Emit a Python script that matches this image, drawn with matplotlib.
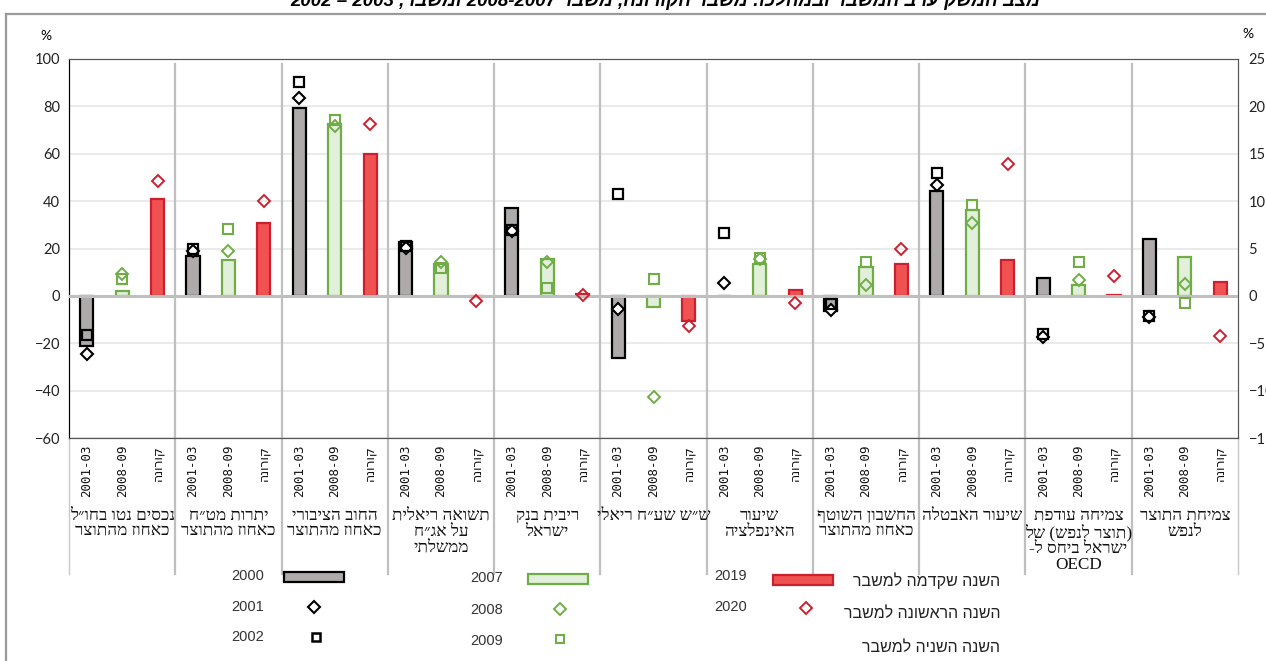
import re
import numpy as np
import matplotlib
matplotlib.use('Agg')
import matplotlib.pyplot as plt
from matplotlib.patches import Rectangle
import matplotlib.transforms as mtransforms

plt.rcParams['font.family'] = ['Lato', 'Liberation Sans', 'DejaVu Sans']


def heb(s):
    # matplotlib has no bidi: put each line in visual order
    lines = []
    for line in s.split('\n'):
        toks = re.findall(r'[A-Za-z0-9]+(?:[-.][A-Za-z0-9]+)*|.', line)
        mirror = {'(': ')', ')': '('}
        lines.append(''.join(mirror.get(t, t) for t in toks[::-1]))
    return '\n'.join(lines)


# ---- data ----
groups = ['נכסים נטו בחו״ל\nכאחוז מהתוצר',
          'יתרות מט״ח\nכאחוז מהתוצר',
          'החוב הציבורי\nכאחוז מהתוצר',
          'תשואה ריאלית\nעל אג״ח\nממשלתי',
          'ריבית בנק\nישראל',
          'ש״ש שע״ח ריאלי',
          'שיעור\nהאינפלציה',
          'החשבון השוטף\nכאחוז מהתוצר',
          'שיעור האבטלה',
          'צמיחה עודפת\n(תוצר לנפש) של\nישראל ביחס ל-\nOECD',
          'צמיחת התוצר\nלנפש']
periods = ['2001-03', '2008-09', 'קורונה']
# first 3 indicators on left axis, the rest on right axis
on_right = [False, False, False, True, True, True, True, True, True, True, True]

y2000 = [-21.3, 16.9, 79.4, 5.7, 9.3, -6.6, 0.0, -1.6, 11.1, 1.9, 6.0]
y2001 = [-24.7, 18.8, 83.4, 5.1, 6.8, -1.4, 1.4, -1.5, 11.7, -4.3, -2.2]
y2002 = [-16.6, 20.0, 90.1, 5.3, 7.0, 10.8, 6.6, -0.9, 13.0, -4.0, -2.1]
y2007 = [2.0, 15.2, 72.7, 3.4, 3.9, -1.2, 3.4, 3.05, 9.1, 1.1, 4.1]
y2008 = [9.4, 18.8, 71.9, 3.6, 3.6, -10.7, 3.9, 1.2, 7.7, 1.7, 1.3]
y2009 = [7.3, 28.1, 74.4, 2.9, 0.8, 1.8, 4.0, 3.6, 9.6, 3.6, -0.8]
y2019 = [40.7, 30.6, 60.0, -0.1, 0.25, -2.6, 0.6, 3.4, 3.8, 0.05, 1.5]
y2020 = [48.4, 40.2, 72.5, -0.55, 0.1, -3.2, -0.7, 5.0, 13.9, 2.1, -4.2]

legend_years = ['2000', '2001', '2002', '2007', '2008', '2009', '2019', '2020']
legend_text = ['השנה שקדמה למשבר', 'השנה הראשונה למשבר', 'השנה השניה למשבר']

GRAY, GREEN_F, GREEN = '#AEAAAA', '#E2EFDA', '#70AD47'
RED_F, RED = '#F05252', '#CC2030'

W, H = 1266, 661
fig = plt.figure(figsize=(W / 100, H / 100), dpi=100)
ax = fig.add_axes([69 / W, 1 - 438 / H, (1238 - 69) / W, (438 - 59) / H])
ax2 = ax.twinx()

ng = len(groups)
xpos = np.arange(ng * 3)
bw = 0.37

for i in range(ng):
    a = ax2 if on_right[i] else ax
    x0, x1, x2 = 3 * i, 3 * i + 1, 3 * i + 2
    a.bar(x0, y2000[i], bw, color=GRAY, edgecolor='black', lw=1.6, zorder=2)
    a.bar(x1, y2007[i], bw, color=GREEN_F, edgecolor=GREEN, lw=1.6, zorder=2)
    a.bar(x2, y2019[i], bw, color=RED_F, edgecolor=RED, lw=1.6, zorder=2)
    a.plot(x0, y2001[i], 'D', ms=6, mfc='white', mec='black', mew=1.5, zorder=4)
    a.plot(x0, y2002[i], 's', ms=6.5, mfc='none', mec='black', mew=1.6, zorder=4)
    a.plot(x1, y2008[i], 'D', ms=6, mfc='none', mec=GREEN, mew=1.4, zorder=4)
    a.plot(x1, y2009[i], 's', ms=6.5, mfc='none', mec=GREEN, mew=1.5, zorder=4)
    a.plot(x2, y2020[i], 'D', ms=6, mfc='none', mec=RED, mew=1.4, zorder=4)

ax.set_xlim(-0.5, ng * 3 - 0.5)
ax.set_ylim(-60, 100)
ax2.set_ylim(-15, 25)
ax.set_yticks(np.arange(-60, 101, 20))
ax2.set_yticks(np.arange(-15, 26, 5))
ax.yaxis.grid(True, color='#E6E6E6', lw=1.2, zorder=0)
ax.set_axisbelow(True)
ax2.axhline(0, color='#BFBFBF', lw=2.2, zorder=3)

ax.set_xticks(xpos)
ax.set_xticklabels([heb(periods[k % 3]) for k in xpos], rotation=90,
                   fontsize=9, family=['DejaVu Sans Mono', 'DejaVu Sans'], color='#111111')
ax.tick_params(axis='x', length=0, pad=5)
ax.tick_params(axis='y', length=0, pad=6.5, labelsize=10.5, labelcolor='#222222')
ax2.tick_params(axis='y', length=0, pad=7.5, labelsize=10.5, labelcolor='#222222')
for a in (ax, ax2):
    for s in ('top', 'right', 'bottom'):
        a.spines[s].set_color('#555555')
    a.spines['left'].set_color('black')

# group separators, running down past the category labels
tr = mtransforms.blended_transform_factory(ax.transData, ax.transAxes)
for g in range(1, ng):
    ax.plot([3 * g - 0.5] * 2, [-0.359, 0.988], color='#BFBFBF', lw=1.6,
            transform=tr, clip_on=False, zorder=1)
for xe in (-0.5, ng * 3 - 0.5):
    ax.plot([xe] * 2, [-0.359, 0], color='#C8C8C8', lw=1.0,
            transform=tr, clip_on=False, zorder=1)

for g in range(ng):
    ax.text(3 * g + 1, -0.184, heb(groups[g]), transform=tr, ha='center', va='top',
            fontsize=12.3, family=['Liberation Serif'], linespacing=1.0, color='#111111')

# overlay in pixel coordinates for frame, title, legend
ov = fig.add_axes([0, 0, 1, 1])
ov.set_xlim(0, W)
ov.set_ylim(H, 0)
ov.axis('off')
ov.plot([6, W], [13.5, 13.5], color='#9A9A9A', lw=1.6)
ov.plot([6, 6], [13.5, H], color='#9A9A9A', lw=1.6)
ov.text(665, 5.5, heb('מצב המשק ערב המשבר ובמהלכו: משבר הקורונה, משבר 2008-2007 ומשבר, 2003 – 2002'),
        ha='center', va='baseline', fontsize=13.5, fontweight='bold', fontstyle='italic',
        family=['Liberation Sans'])
ov.text(46, 36, '%', ha='center', va='center', fontsize=10)
ov.text(1248, 34, '%', ha='center', va='center', fontsize=10)

# legend
ov.add_patch(Rectangle((284, 572), 60, 10, fc=GRAY, ec='black', lw=1.6))
ov.add_patch(Rectangle((528, 574), 60, 10, fc=GREEN_F, ec=GREEN, lw=1.6))
ov.add_patch(Rectangle((773, 575), 60, 10, fc=RED_F, ec=RED, lw=1.6))
ov.plot(314, 607, 'D', ms=6, mfc='white', mec='black', mew=1.5)
ov.plot(316, 637, 's', ms=5.5, mfc='none', mec='black', mew=1.8)
ov.plot(560, 609, 'D', ms=6, mfc='none', mec=GREEN, mew=1.4)
ov.plot(560, 639, 's', ms=5.5, mfc='none', mec=GREEN, mew=1.5)
ov.plot(806, 608, 'D', ms=6, mfc='none', mec=RED, mew=1.4)
lx = [248, 248, 248, 487, 487, 487, 731, 731]
lyy = [576, 607, 637, 578, 610, 641, 576, 607]
for t, x, y in zip(legend_years, lx, lyy):
    ov.text(x, y, t, ha='center', va='center', fontsize=10.5, family=['Liberation Sans'],
            color='#333333')
for t, y in zip(legend_text, [581, 614, 648]):
    ov.text(1000, y, heb(t), ha='right', va='center', fontsize=11.5,
            family=['Liberation Sans'], color='#222222')

fig.savefig('out.png', dpi=100)
